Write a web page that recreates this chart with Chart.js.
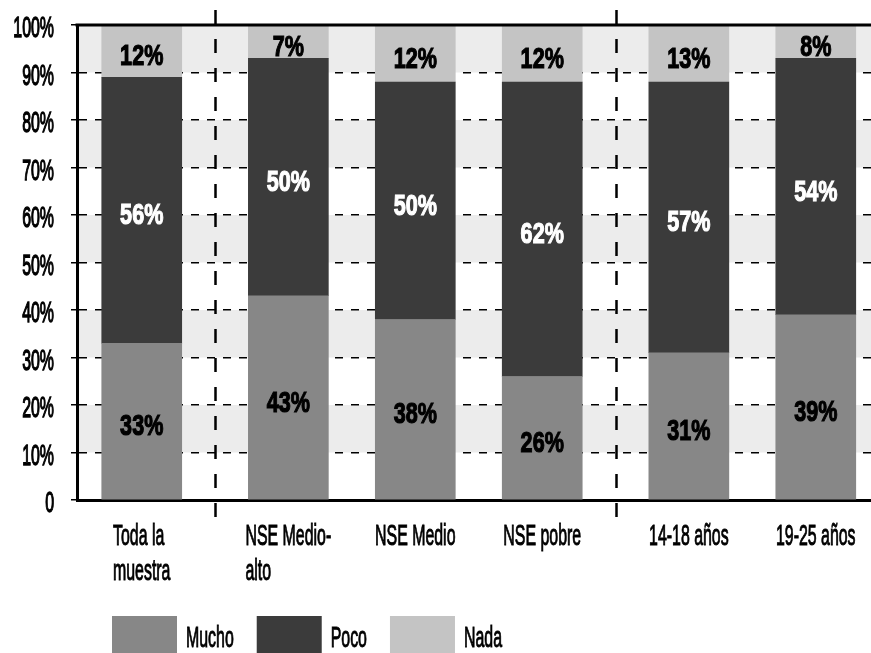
<!DOCTYPE html>
<html lang="es">
<head>
    <meta charset="UTF-8">
    <title>Mucho / Poco / Nada</title>
    <script src="https://cdn.jsdelivr.net/npm/chart.js"></script>
    <style>
        body {
            margin: 0;
            background: #ffffff;
        }
    </style>
</head>
<body>
    <canvas id="chart" width="871" height="653"></canvas>

    <script>
        // categorias y grupo al que pertenece cada una
        var categorias = [['Toda la', 'muestra'], ['NSE Medio-', 'alto'], 'NSE Medio', 'NSE pobre', '14-18 años', '19-25 años'];
        var grupos = [0, 1, 1, 1, 2, 2];

        var mucho = [33, 43, 38, 26, 31, 39];
        var poco = [56, 50, 50, 62, 57, 54];
        var nada = [12, 7, 12, 12, 13, 8];

        var yTicks = [0, 10, 20, 30, 40, 50, 60, 70, 80, 90, 100];

        // separacion extra entre grupos (en unidades del eje x)
        var GAP = 0.155;
        var posX = categorias.map(function (c, i) { return i + grupos[i] * GAP; });

        function serie(valores) {
            return valores.map(function (v, i) { return { x: posX[i], y: v }; });
        }

        // letra estrecha: se comprime en horizontal
        var FUENTE_EJE = "30px 'Liberation Sans', Arial, sans-serif";
        var FUENTE_CIFRAS = "bold 30px 'Liberation Sans', Arial, sans-serif";
        var ESTRECHO = 0.53;
        var ESTRECHO_CIFRAS = 0.72;

        function texto(ctx, str, x, y, align, fuente, k, grosor) {
            ctx.save();
            ctx.translate(x, y);
            ctx.scale(k, 1);
            ctx.font = fuente;
            ctx.textAlign = align;
            ctx.textBaseline = 'alphabetic';
            ctx.fillText(str, 0, 0);
            if (grosor) {
                ctx.lineWidth = grosor;
                ctx.strokeStyle = ctx.fillStyle;
                ctx.strokeText(str, 0, 0);
            }
            ctx.restore();
        }

        function ancho(ctx, str, fuente, k) {
            ctx.save();
            ctx.font = fuente;
            var w = ctx.measureText(str).width * k;
            ctx.restore();
            return w;
        }

        // franjas grises alternas detras de las barras
        var franjas = {
            id: 'franjas',
            beforeDraw: function (chart) {
                var ctx = chart.ctx, a = chart.chartArea, y = chart.scales.y;
                ctx.save();
                ctx.fillStyle = '#ececec';
                for (var v = 10; v < 100; v += 20) {
                    var top = y.getPixelForValue(v + 10), bot = y.getPixelForValue(v);
                    ctx.fillRect(a.left, top, a.right - a.left, bot - top);
                }
                ctx.restore();
            }
        };

        // textos de los ejes y leyenda
        var rotulos = {
            id: 'rotulos',
            afterDraw: function (chart) {
                var ctx = chart.ctx, a = chart.chartArea, x = chart.scales.x, y = chart.scales.y;
                ctx.save();
                ctx.fillStyle = '#000';

                y.ticks.forEach(function (t) {
                    var lbl = t.value === 0 ? '0' : t.value + '%';
                    texto(ctx, lbl, 54, y.getPixelForValue(t.value) + 12, 'right', FUENTE_EJE, ESTRECHO, 1.4);
                });

                x.ticks.forEach(function (t, i) {
                    var lineas = [].concat(categorias[i]);
                    var w = Math.max.apply(null, lineas.map(function (l) { return ancho(ctx, l, FUENTE_EJE, ESTRECHO); }));
                    var x0 = x.getPixelForValue(t.value) - w / 2;
                    lineas.forEach(function (l, j) {
                        texto(ctx, l, x0, a.bottom + 45 + j * 35, 'left', FUENTE_EJE, ESTRECHO, 1);
                    });
                });

                // leyenda
                var lx = 112;
                chart.data.datasets.forEach(function (ds) {
                    ctx.fillStyle = ds.backgroundColor;
                    ctx.fillRect(lx, 616, 65, 40);
                    ctx.fillStyle = '#000';
                    texto(ctx, ds.label, lx + 74, 647, 'left', FUENTE_EJE, ESTRECHO, 1);
                    lx += 74 + ancho(ctx, ds.label, FUENTE_EJE, ESTRECHO) + 23;
                });
                ctx.restore();
            }
        };

        // linea superior y separadores discontinuos entre grupos
        var marco = {
            id: 'marco',
            afterDraw: function (chart) {
                var ctx = chart.ctx, a = chart.chartArea, x = chart.scales.x;
                ctx.save();
                ctx.strokeStyle = '#000';
                ctx.lineWidth = 3;
                ctx.beginPath();
                ctx.moveTo(a.left - 1.5, a.top);
                ctx.lineTo(a.right, a.top);
                ctx.stroke();

                ctx.lineWidth = 2.5;
                ctx.setLineDash([14, 15]);
                for (var i = 1; i < grupos.length; i++) {
                    if (grupos[i] === grupos[i - 1]) continue;
                    var px = Math.round(x.getPixelForValue((posX[i] + posX[i - 1]) / 2)) + 0.5;
                    ctx.beginPath();
                    ctx.moveTo(px, a.top - 15);
                    ctx.lineTo(px, a.bottom + 21);
                    ctx.stroke();
                }
                ctx.restore();
            }
        };

        // porcentajes dentro de cada segmento
        var etiquetas = {
            id: 'etiquetas',
            afterDatasetsDraw: function (chart) {
                var ctx = chart.ctx, a = chart.chartArea;
                ctx.save();
                chart.data.datasets.forEach(function (ds, di) {
                    chart.getDatasetMeta(di).data.forEach(function (bar, i) {
                        var top = Math.max(bar.y, a.top);
                        ctx.fillStyle = ds.labelColor;
                        texto(ctx, ds.data[i].y + '%', bar.x, (top + bar.base) / 2 + 14, 'center', FUENTE_CIFRAS, ESTRECHO_CIFRAS, 1.2);
                    });
                });
                ctx.restore();
            }
        };

        var chart = new Chart(document.getElementById('chart'), {
            type: 'bar',
            data: {
                datasets: [
                    { label: 'Mucho', data: serie(mucho), backgroundColor: '#878787', labelColor: '#000000' },
                    { label: 'Poco', data: serie(poco), backgroundColor: '#3b3b3b', labelColor: '#ffffff' },
                    { label: 'Nada', data: serie(nada), backgroundColor: '#c4c4c4', labelColor: '#000000' }
                ]
            },
            options: {
                responsive: false,
                animation: false,
                layout: { padding: { top: 25, left: 0, right: 0, bottom: 0 } },
                datasets: { bar: { barThickness: 80 } },
                plugins: {
                    legend: { display: false },
                    tooltip: { enabled: false }
                },
                scales: {
                    x: {
                        type: 'linear',
                        stacked: true,
                        offset: false,
                        min: -0.51,
                        max: 5.745,
                        afterFit: function (s) {
                            s.height = 153;
                            s.paddingLeft = 0;
                            s.paddingRight = 0;
                        },
                        afterBuildTicks: function (s) {
                            s.ticks = posX.map(function (v) { return { value: v }; });
                        },
                        ticks: { display: false },
                        grid: { display: false, drawTicks: false },
                        border: { display: true, color: '#000', width: 3 }
                    },
                    y: {
                        stacked: true,
                        min: 0,
                        max: 100,
                        afterFit: function (s) {
                            s.width = 77;
                            s.paddingTop = 0;
                            s.paddingBottom = 0;
                        },
                        afterBuildTicks: function (s) {
                            s.ticks = yTicks.map(function (v) { return { value: v }; });
                        },
                        ticks: { display: false },
                        grid: {
                            color: '#000',
                            lineWidth: 1.5,
                            tickLength: 6,
                            tickBorderDash: [],
                            tickWidth: 1.5
                        },
                        border: { display: true, color: '#000', width: 3, dash: [8, 8] }
                    }
                }
            },
            plugins: [franjas, marco, etiquetas, rotulos]
        });
    </script>
</body>
</html>
